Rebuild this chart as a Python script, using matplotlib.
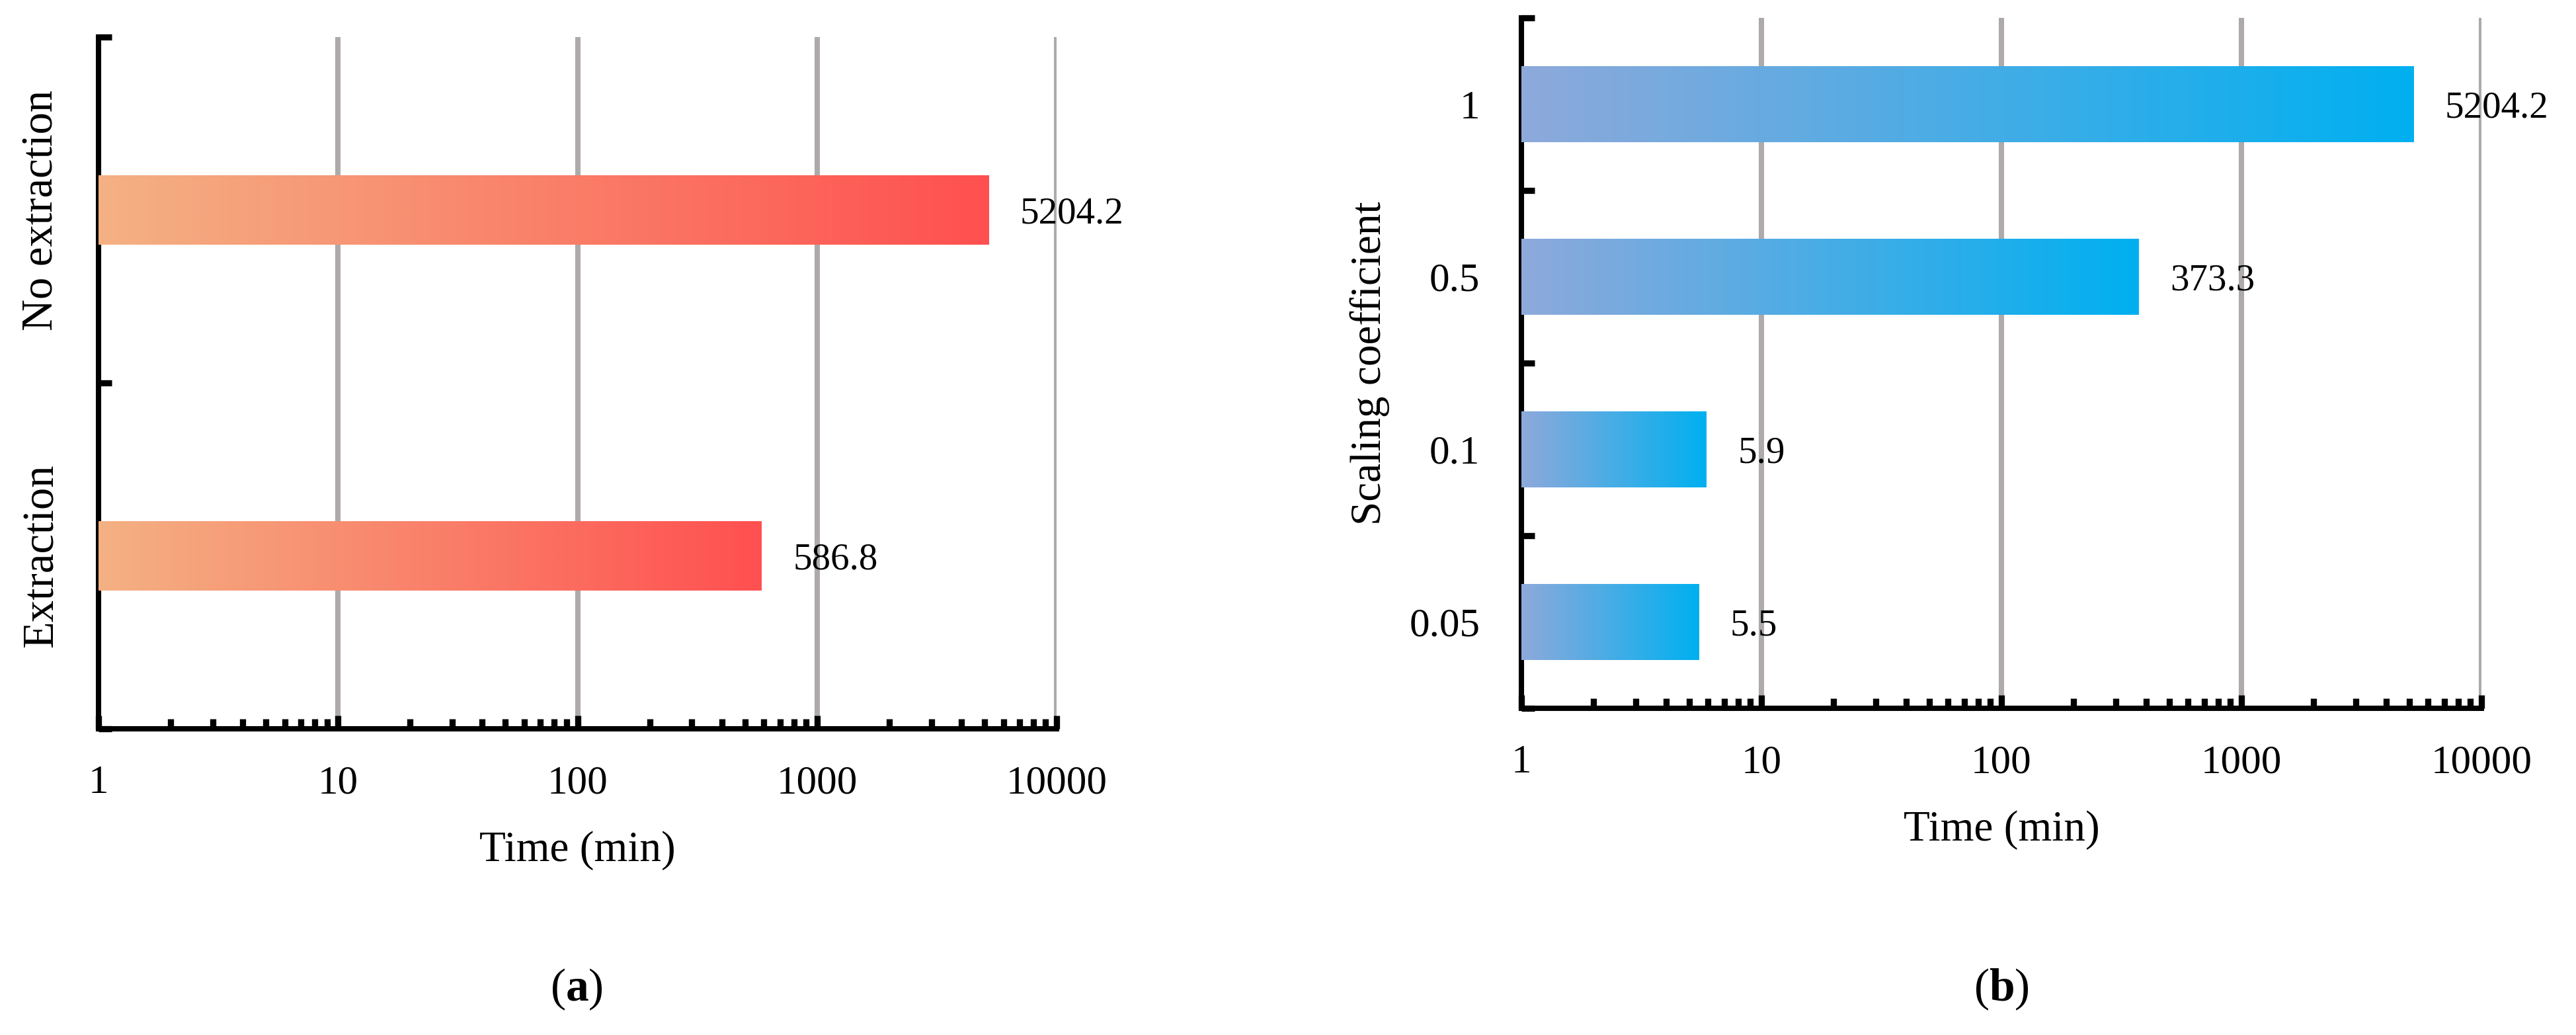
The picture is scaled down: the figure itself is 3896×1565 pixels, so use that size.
import numpy as np
import matplotlib
matplotlib.use("Agg")
import matplotlib.pyplot as plt
from matplotlib.colors import LinearSegmentedColormap
from matplotlib.ticker import LogLocator, NullFormatter, FixedLocator

plt.rcParams['font.family'] = ['Liberation Serif', 'DejaVu Serif']
plt.rcParams['mathtext.fontset'] = 'custom'
plt.rcParams['mathtext.rm'] = 'Liberation Serif'
plt.rcParams['mathtext.bf'] = 'Liberation Serif:bold'

# ---------------- data ----------------
cats_a = ["No extraction", "Extraction"]          # top to bottom
vals_a = [5204.2, 586.8]
labels_a = ["5204.2", "586.8"]

cats_b = ["1", "0.5", "0.1", "0.05"]               # top to bottom
vals_b = [5204.2, 373.3, 5.9, 5.5]
labels_b = ["5204.2", "373.3", "5.9", "5.5"]

xticks = [1, 10, 100, 1000, 10000]
xticklabels = ["1", "10", "100", "1000", "10000"]
xlabel = "Time (min)"
ylabel_b = "Scaling coefficient"

W, H = 3896, 1565
fig = plt.figure(figsize=(W / 100, H / 100), dpi=100)
fig.patch.set_facecolor("white")

GRID = "#AEAAAA"
SPINE_LW = 5.8


def setup_axes(rect_px, n):
    l, t, r, b = rect_px
    ax = fig.add_axes([l / W, 1 - b / H, (r - l) / W, (b - t) / H])
    ax.set_xscale("log")
    ax.set_xlim(xticks[0], xticks[-1])
    ax.set_ylim(n - 0.5, -0.5)
    ax.set_autoscale_on(False)
    ax.set_axisbelow(True)
    for s in ("top", "right"):
        ax.spines[s].set_visible(False)
    for s in ("left", "bottom"):
        ax.spines[s].set_linewidth(SPINE_LW)
        ax.spines[s].set_color("black")
        ax.spines[s].set_capstyle("projecting")
    ax.set_xticks(xticks)
    ax.set_xticklabels(xticklabels)
    ax.xaxis.set_minor_locator(LogLocator(base=10, subs=np.arange(2, 10)))
    ax.xaxis.set_minor_formatter(NullFormatter())
    ax.tick_params(axis="x", which="major", direction="in", length=14.4,
                   width=6.7, pad=39.5, labelsize=44, color="black")
    ax.tick_params(axis="x", which="minor", direction="in", length=10.8,
                   width=6.7, color="black")
    ax.grid(True, axis="x", which="major", color=GRID, linewidth=5.8)
    ax.set_yticks(np.arange(n))
    ax.yaxis.set_minor_locator(FixedLocator(np.arange(n + 1) - 0.5))
    ax.tick_params(axis="y", which="minor", direction="in", length=14.4,
                   width=6.7, color="black")
    return ax


def gradient_bars(ax, vals, labels, height, c0, c1, lab_size):
    cmap = LinearSegmentedColormap.from_list("g", [c0, c1])
    grad = np.linspace(0, 1, 512).reshape(1, -1)
    y = np.arange(len(vals))
    bars = ax.barh(y, [v - 1 for v in vals], left=1, height=height,
                   color=c1, linewidth=0, zorder=2)
    to_axes = ax.transData + ax.transAxes.inverted()
    for b in bars:
        x0, y0 = b.get_x(), b.get_y()
        x1, y1 = x0 + b.get_width(), y0 + b.get_height()
        (ax0, ay0) = to_axes.transform((x0, y0))
        (ax1, ay1) = to_axes.transform((x1, y1))
        im = ax.imshow(grad, cmap=cmap, aspect="auto", interpolation="bilinear",
                       extent=[ax0, ax1, min(ay0, ay1), max(ay0, ay1)],
                       transform=ax.transAxes, zorder=3)
        im.set_clip_path(b)
    for yi, v, lab in zip(y, vals, labels):
        ax.annotate(lab, xy=(v, yi), xytext=(34, 0), textcoords="offset points",
                    ha="left", va="center_baseline", fontsize=lab_size,
                    annotation_clip=False)
    return bars


# ---------------- panel (a) ----------------
ax_a = setup_axes((149, 56, 1598, 1102), len(cats_a))
gradient_bars(ax_a, vals_a, labels_a, 0.2, "#F4B183", "#FF5050", 41)
ax_a.set_yticklabels(cats_a, rotation=90, va="center", ha="right", fontsize=48)
ax_a.tick_params(axis="y", which="major", length=0, pad=40)
ax_a.set_xlabel(xlabel, fontsize=47)
ax_a.xaxis.set_label_coords(0.5, -0.148)

# ---------------- panel (b) ----------------
ax_b = setup_axes((2301, 27, 3753, 1071), len(cats_b))
gradient_bars(ax_b, vals_b, labels_b, 0.44, "#8EA9DB", "#00B0F0", 41)
ax_b.set_yticklabels(cats_b, fontsize=44)
ax_b.tick_params(axis="y", which="major", length=0, pad=45)
ax_b.set_xlabel(xlabel, fontsize=47)
ax_b.xaxis.set_label_coords(0.5, -0.1475)
ax_b.set_ylabel(ylabel_b, fontsize=47)
ax_b.yaxis.set_label_coords(-0.137, 0.5)

# ---------------- panel letters ----------------
for letter, xc in (("a", 872), ("b", 3027)):
    fig.text(xc / W, 1 - 1496 / H, f"(${{\\mathbf{{{letter}}}}}$)", ha="center",
             va="center", fontsize=50)

fig.savefig("out.png", dpi=100, facecolor="white")
